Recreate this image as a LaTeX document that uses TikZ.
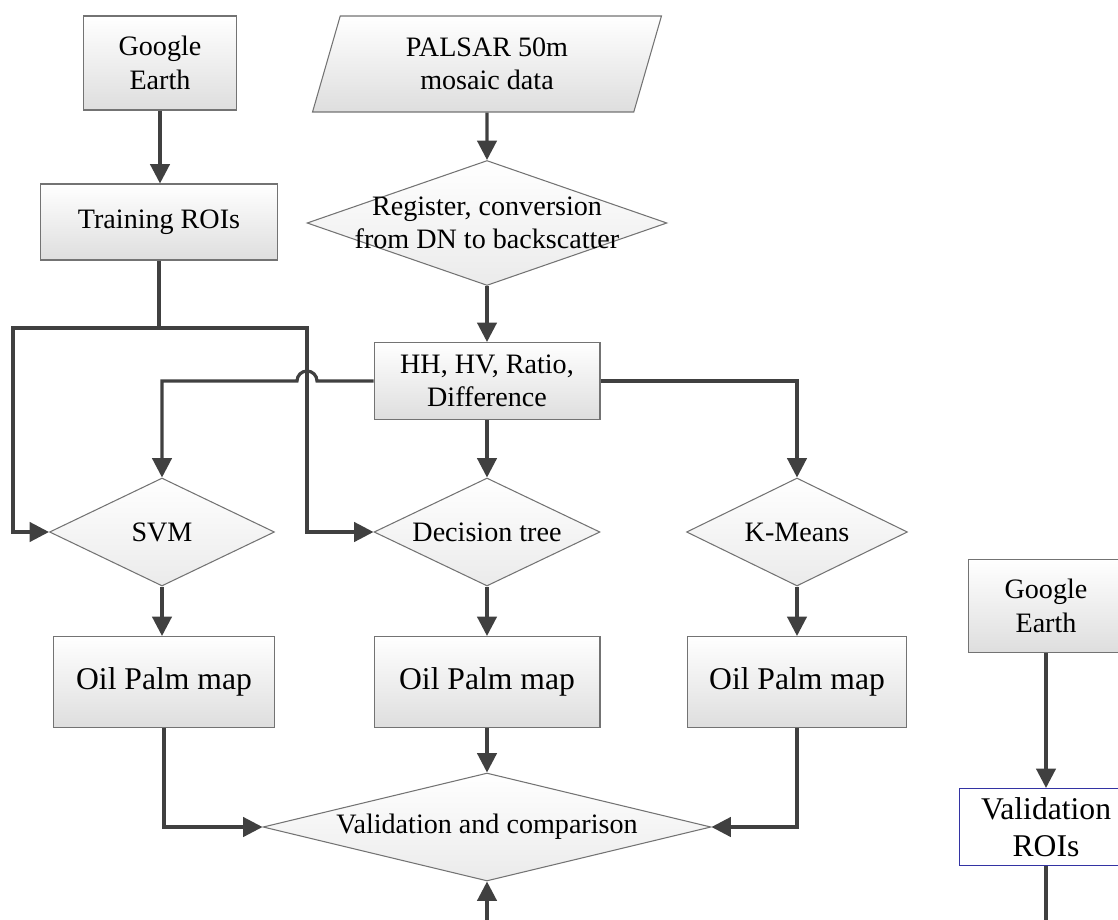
\documentclass[tikz,border=0pt]{standalone}
\usepackage{fontspec}
\setmainfont{Liberation Serif}
\usepackage{tikz}
\usetikzlibrary{shapes.geometric,arrows.meta}
\tikzstyle{box}=[draw=black!55, line width=0.6pt, top color=white, bottom color=black!13, shape=rectangle, inner sep=2pt, align=center, font=\fontsize{16}{19}\selectfont]
\tikzstyle{big box}=[box, font=\fontsize{18}{21}\selectfont]
\tikzstyle{data}=[box, shape=trapezium, trapezium left angle=65, trapezium right angle=115, trapezium stretches body]
\tikzstyle{decision}=[box, bottom color=black!8, shape=diamond, inner sep=0pt, aspect=2.1]
\tikzstyle{blue box}=[draw=blue!55!black!80, fill=white, line width=0.6pt, shape=rectangle, inner sep=2pt, align=center, font=\fontsize{18}{21}\selectfont]
\tikzstyle{link}=[draw=black!75, line width=1.8pt]
\tikzstyle{flow}=[link, -{Triangle[length=11pt,width=11pt]}]
\pgfdeclarelayer{nodelayer}
\pgfdeclarelayer{edgelayer}
\pgfsetlayers{main,nodelayer,edgelayer}

\begin{document}
\begin{tikzpicture}[x=0.02cm, y=-0.02cm]
	\clip (0,0) rectangle (1118,919);
	\begin{pgfonlayer}{nodelayer}
		\node [style=box, minimum width=3.06cm, minimum height=1.88cm] (ge) at (160,63) {Google\\Earth};
		\node [style=box, minimum width=4.74cm, minimum height=1.52cm] (roi) at (159,222) {Training ROIs};
		\node [style=data, minimum width=6.98cm, minimum height=1.92cm] (sar) at (487,64) {PALSAR 50m\\mosaic data};
		\node [style=decision, minimum width=7.2cm, minimum height=2.5cm, label={[align=center, font=\fontsize{16}{19}\selectfont]center:{Register, conversion\\from DN to backscatter}}] (reg) at (487,223) {};
		\node [style=box, minimum width=4.52cm, minimum height=1.54cm] (hh) at (487,381) {HH, HV, Ratio,\\Difference};
		\node [style=decision, minimum width=4.5cm, minimum height=2.16cm] (svm) at (162,532) {SVM};
		\node [style=decision, minimum width=4.52cm, minimum height=2.16cm] (dt) at (487,532) {Decision tree};
		\node [style=decision, minimum width=4.42cm, minimum height=2.16cm] (km) at (797,532) {K-Means};
		\node [style=big box, minimum width=4.42cm, minimum height=1.82cm] (map1) at (164,682) {Oil Palm map};
		\node [style=big box, minimum width=4.52cm, minimum height=1.82cm] (map2) at (487,682) {Oil Palm map};
		\node [style=big box, minimum width=4.38cm, minimum height=1.82cm] (map3) at (797,682) {Oil Palm map};
		\node [style=decision, aspect=4.15, minimum width=8.96cm, minimum height=2.16cm] (val) at (487,827) {Validation and comparison};
		\node [style=box, minimum width=3.12cm, minimum height=1.86cm] (ge2) at (1046,606) {Google\\Earth};
		\node [style=blue box, minimum width=3.48cm, minimum height=1.54cm] (vroi) at (1046,827) {Validation\\ROIs};
		\coordinate (tj) at (159,328);
		\coordinate (tl) at (13,328);
		\coordinate (tr) at (307,328);
		\coordinate (low) at (487,960);
	\end{pgfonlayer}
	\begin{pgfonlayer}{edgelayer}
		\draw [style=flow] (ge.south) -- (ge.south |- roi.north);
		\draw [style=flow] (sar.south) -- (reg.north);
		\draw [style=flow] (reg.south) -- (hh.north);
		\draw [style=flow] (hh.south) -- (dt.north);
		\draw [style=link] (roi.south) -- (tj);
		\draw [style=flow] (tj) -- (tl) |- (svm.west);
		\draw [style=flow] (tj) -- (tr) |- (dt.west);
		\draw [style=flow] (hh.west) -- ([xshift=0.2cm]tr |- hh.west) arc [start angle=0, end angle=180, radius=0.2cm] -| (svm.north);
		\draw [style=flow] (hh.east) -| (km.north);
		\draw [style=flow] (svm.south) -- (svm.south |- map1.north);
		\draw [style=flow] (dt.south) -- (map2.north);
		\draw [style=flow] (km.south) -- (map3.north);
		\draw [style=flow] (map1.south) |- (val.west);
		\draw [style=flow] (map2.south) -- (val.north);
		\draw [style=flow] (map3.south) |- (val.east);
		\draw [style=flow] (ge2.south) -- (vroi.north);
		\draw [style=flow] (vroi.south) -- (vroi.south |- low) -| (val.south);
	\end{pgfonlayer}
\end{tikzpicture}
\end{document}
